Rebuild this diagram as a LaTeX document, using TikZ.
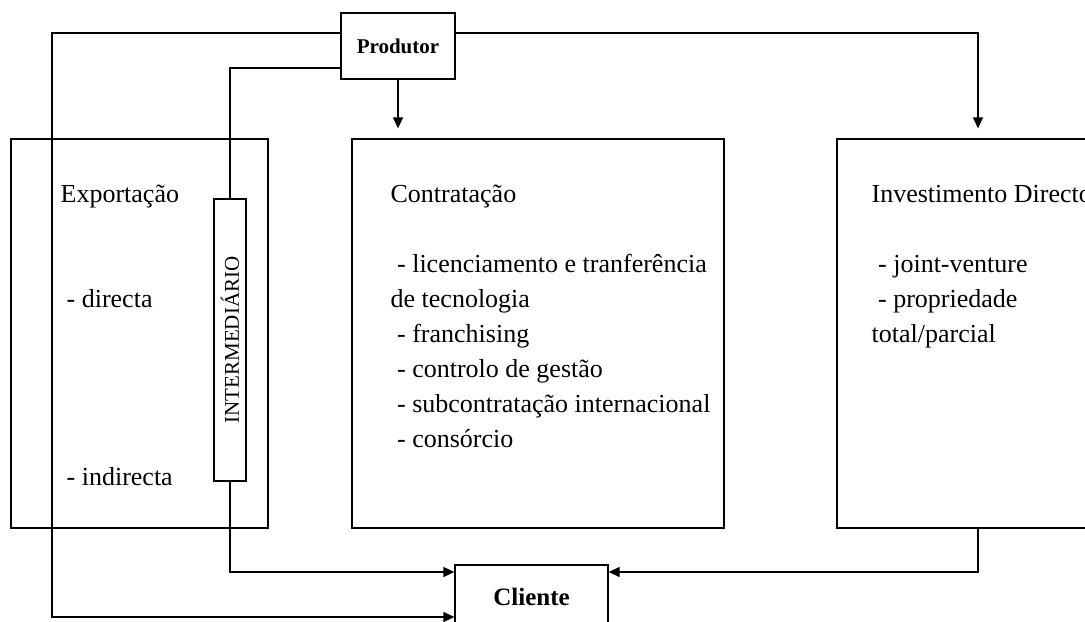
\documentclass[tikz,border=0pt]{standalone}
\usepackage{amsmath}
\usepackage{fontspec}
\setmainfont{Liberation Serif}
\usepackage{tikz}
\usepackage{xcolor}
\usetikzlibrary{arrows.meta}

\tikzset{
	caixa/.style={draw, rectangle, inner sep=0pt},
	seta/.style={-{Triangle[length=5.5pt,width=5pt]}},
	texto/.style={anchor=base west, inner sep=0pt, align=left, font=\fontsize{13}{17.5}\selectfont},
	negrito/.style={font=\fontsize{#1}{13}\selectfont\bfseries}
}

\begin{document}
\begin{tikzpicture}[x=0.5pt, y=-0.5pt, line width=0.65pt]
			\useasboundingbox (0,0) rectangle (1085,621);
			\node[caixa, negrito=10.5, minimum width=57pt, minimum height=33pt] (prod) at (398,46) {Produtor};
			\node[caixa, negrito=12.5, minimum width=76.5pt, minimum height=32pt] (cli) at (531.5,597) {Cliente};
			\node[caixa, minimum width=128.5pt, minimum height=194.5pt] (exp) at (139.5,333.5) {};
			\node[caixa, minimum width=186pt, minimum height=194.5pt] (contr) at (538,333.5) {};
			\node[caixa, minimum width=141pt, minimum height=194.5pt] (inv) at (978,333.5) {};
			\node[caixa, fill=white, rotate=90, minimum width=141pt, minimum height=16pt, font=\fontsize{10.5}{12}\selectfont] (inter) at (230,340) {INTERMEDIÁRIO};
			\coordinate (c1) at (52,33);
			\coordinate (c2) at (52,617);
			\coordinate (c3) at (0,68);
			\coordinate (c4) at (0,572);
			\draw[seta] (prod.west |- c1) -| (c2) -- (cli.west |- c2);
			\draw (prod.west |- c3) -| (inter.east);
			\draw[seta] (inter.west) |- (cli.west |- c4);
			\draw[seta, shorten >=5pt] (prod.east |- c1) -| (inv.north);
			\draw[seta, shorten >=5pt] (prod.south) -- (prod.south |- contr.north);
			\draw[seta] (inv.south) |- (cli.east |- c4);
			% base = baseline of the last line
			\node[texto] (texp) at (60,202) {Exportação};
			\node[texto] (tdir) at (66,307) {- directa};
			\node[texto] (tind) at (66,485) {- indirecta};
			\node[texto] (tcontr) at (390,447) {Contratação\\[17.5pt]
				\ - licenciamento e tranferência\\de tecnologia\\
				\ - franchising\\\ - controlo de gestão\\
				\ - subcontratação internacional\\\ - consórcio};
			\node[texto] (tinv) at (871,342) {Investimento Directo\\[17.5pt]
				\ - joint-venture\\\ - propriedade\\total/parcial};
		\end{tikzpicture}
\end{document}
